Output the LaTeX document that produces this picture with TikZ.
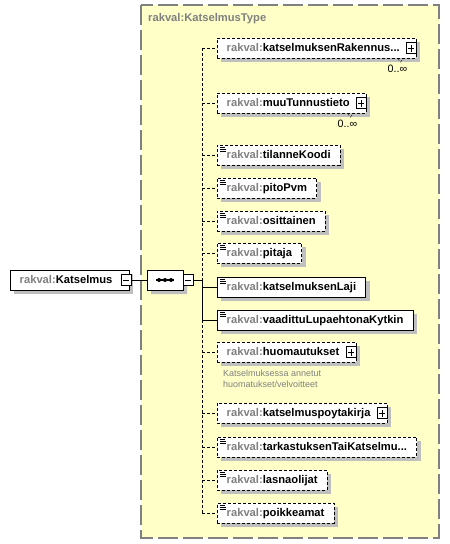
\documentclass[tikz,border=0pt]{standalone}
\usepackage{fontspec}
\setmainfont{Liberation Sans}
\usetikzlibrary{shadows,shapes.misc}

\definecolor{typefill}{HTML}{FFFFC8}
\definecolor{prefixgray}{HTML}{808080}
\newcommand{\rk}{\textcolor{prefixgray}{rakval:}}
\newcommand{\pad}{\kern7pt\rule{0pt}{1pt}}

\tikzset{
    elem/.style={draw, fill=white, anchor=west, minimum height=20pt,
        inner xsep=9.5pt, inner ysep=0pt, text height=8pt, text depth=2pt,
        font=\bfseries\fontsize{11.2}{13}\selectfont,
        general shadow={fill=black!25, shadow xshift=4pt, shadow yshift=-4pt}},
    opt/.style={elem, dash pattern=on 3pt off 2pt},
    dashline/.style={dash pattern=on 3pt off 2pt},
    leaf/.style={path picture={
        \draw[solid, line width=0.6pt]
            ([xshift=3pt,yshift=-2pt]path picture bounding box.north west) -- ++(5,0)
            ([xshift=3pt,yshift=-4pt]path picture bounding box.north west) -- ++(6,0)
            ([xshift=3pt,yshift=-6pt]path picture bounding box.north west) -- ++(6,0);}},
    pmbox/.style={draw, solid, fill=white, minimum width=10pt, minimum height=11pt, inner sep=0pt},
    plusbox/.style={pmbox, path picture={
        \draw[solid] ([xshift=2pt]path picture bounding box.west) -- ([xshift=-2pt]path picture bounding box.east)
            ([yshift=2pt]path picture bounding box.south) -- ([yshift=-2pt]path picture bounding box.north);}},
    minusbox/.style={pmbox, path picture={
        \draw[solid] ([xshift=2pt]path picture bounding box.west) -- ([xshift=-2pt]path picture bounding box.east);}},
    multi/.style={anchor=north east, inner sep=0pt, font=\fontsize{10.7}{13}\selectfont},
}

\begin{document}
\begin{tikzpicture}[x=1pt, y=-1pt]
        \useasboundingbox (0,0) rectangle (450,544);
        % complex type
        \scope
        \draw[fill=typefill, draw=gray, line width=1.2pt, dash pattern=on 20pt off 5pt]
            (141,5) rectangle (439,538);
        \node[anchor=west, inner sep=0pt, text=prefixgray, font=\bfseries\fontsize{11.2}{13}\selectfont]
            (title) at (148,19) {rakval:KatselmusType};
        \endscope
        % root element and sequence
        \node[elem] (root) at (10,280) {\rk Katselmus\pad};
        \node[minusbox] (rootm) at ([xshift=-3pt]root.east) {};
        \node[draw, fill=white, chamfered rectangle, chamfered rectangle xsep=6pt,
            chamfered rectangle ysep=6pt, minimum width=36pt, minimum height=20pt, inner sep=0pt,
            general shadow={fill=black!25, shadow xshift=4pt, shadow yshift=-4pt}]
            (seq) at (165,280) {};
        \draw[line width=1.2pt] ([xshift=-9pt]seq.center) -- ([xshift=9pt]seq.center);
        \fill ([xshift=-6pt]seq.center) circle (2) (seq.center) circle (2)
            ([xshift=6pt]seq.center) circle (2);
        \node[minusbox] (seqm) at ([xshift=5pt]seq.east) {};
        \draw (rootm.east) -- (seq.west);
        \coordinate (spine) at (202,280);
        \draw (seqm.east) -- (spine);
        % children
        \node[opt] (e1) at (217,48) {\rk katselmuksenRakennus...\pad};
        \node[opt] (e2) at (217,103) {\rk muuTunnustieto\pad};
        \node[opt, leaf] (e3) at (217,155) {\rk tilanneKoodi};
        \node[opt, leaf] (e4) at (217,188) {\rk pitoPvm};
        \node[opt, leaf] (e5) at (217,221) {\rk osittainen};
        \node[opt, leaf] (e6) at (217,253) {\rk pitaja};
        \node[elem, leaf] (e7) at (217,287) {\rk katselmuksenLaji};
        \node[elem, leaf] (e8) at (217,320) {\rk vaadittuLupaehtonaKytkin};
        \node[opt] (e9) at (217,352) {\rk huomautukset\pad};
        \node[opt] (e10) at (217,413) {\rk katselmuspoytakirja\pad};
        \node[opt, leaf] (e11) at (217,447) {\rk tarkastuksenTaiKatselmu...};
        \node[opt, leaf] (e12) at (217,480) {\rk lasnaolijat};
        \node[opt, leaf] (e13) at (217,513) {\rk poikkeamat};
        % expand boxes
        \foreach \e in {e1,e2,e9,e10}
            \node[plusbox] (\e p) at ([xshift=-5pt]\e.east) {};
        % occurrences
        \foreach \e in {e1,e2} {
            \draw[dashline] ([xshift=-19pt]\e.south east) -- ++(3,4) -- ++(3,-4);
            \node[multi] (\e m) at ([xshift=-9pt,yshift=-7pt]\e.south east) {0..∞};
        }
        % annotation
        \node[anchor=north west, inner sep=0pt, align=left, text=prefixgray,
            font=\fontsize{9}{11}\selectfont] (note) at ([xshift=6pt,yshift=-8pt]e9.south west)
            {Katselmuksessa annetut\\huomatukset/velvoitteet};
        % connectors
        \draw[dashline] (spine |- e1.west) -- (spine);
        \draw (spine) -- (spine |- e8.west);
        \draw[dashline] (spine |- e8.west) -- (spine |- e13.west);
        \foreach \e in {e1,e2,e3,e4,e5,e6,e9,e10,e11,e12,e13}
            \draw[dashline] (spine |- \e.west) -- (\e.west);
        \foreach \e in {e7,e8}
            \draw (spine |- \e.west) -- (\e.west);
    \end{tikzpicture}
\end{document}
